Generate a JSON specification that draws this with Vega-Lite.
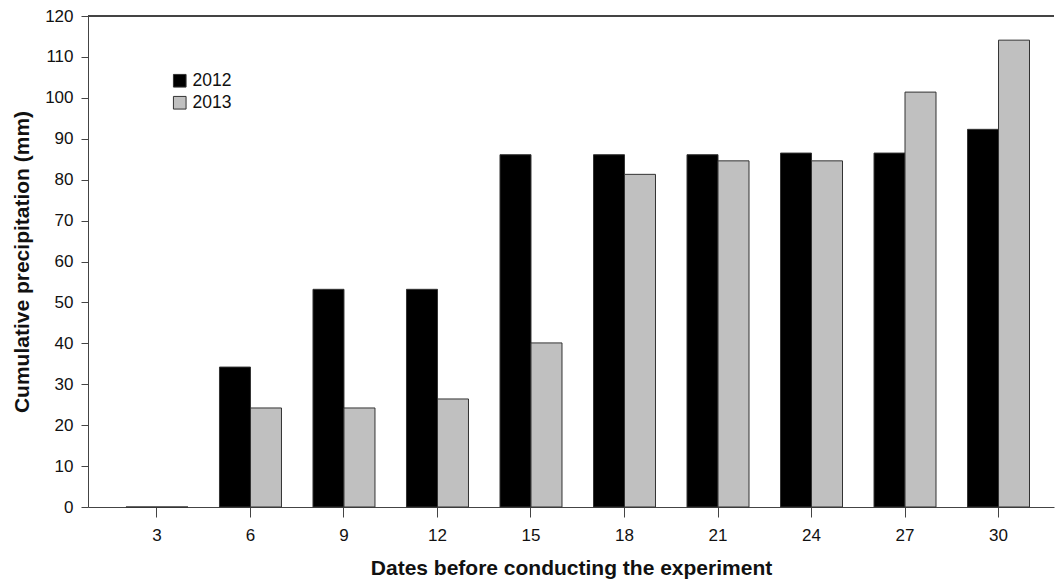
{
  "$schema": "https://vega.github.io/schema/vega-lite/v6.json",
  "autosize": {"type": "none"},
  "width": 966,
  "height": 491,
  "padding": {"left": 88, "top": 16, "right": 2, "bottom": 79},
  "background": "white",
  "config": {
    "view": {"stroke": null},
    "font": "Liberation Sans",
    "axis": {
      "domainColor": "#444",
      "tickColor": "#444",
      "labelColor": "#111",
      "labelFont": "Liberation Sans",
      "labelFontSize": 17,
      "titleFont": "Liberation Sans",
      "titleFontSize": 21,
      "titleFontWeight": "bold",
      "titleColor": "#111",
      "grid": false
    }
  },
  "data": {
    "values": [
      {"day": 3, "year": "2012", "mm": 0},
      {"day": 3, "year": "2013", "mm": 0},
      {"day": 6, "year": "2012", "mm": 34.2},
      {"day": 6, "year": "2013", "mm": 24.2},
      {"day": 9, "year": "2012", "mm": 53.2},
      {"day": 9, "year": "2013", "mm": 24.2},
      {"day": 12, "year": "2012", "mm": 53.2},
      {"day": 12, "year": "2013", "mm": 26.4},
      {"day": 15, "year": "2012", "mm": 86.1},
      {"day": 15, "year": "2013", "mm": 40.1},
      {"day": 18, "year": "2012", "mm": 86.1},
      {"day": 18, "year": "2013", "mm": 81.3},
      {"day": 21, "year": "2012", "mm": 86.1},
      {"day": 21, "year": "2013", "mm": 84.6},
      {"day": 24, "year": "2012", "mm": 86.5},
      {"day": 24, "year": "2013", "mm": 84.6},
      {"day": 27, "year": "2012", "mm": 86.5},
      {"day": 27, "year": "2013", "mm": 101.4},
      {"day": 30, "year": "2012", "mm": 92.3},
      {"day": 30, "year": "2013", "mm": 114.1}
    ]
  },
  "layer": [
    {
      "mark": {"type": "bar", "stroke": "#333", "strokeWidth": 1},
      "encoding": {
        "x": {
          "field": "day",
          "type": "ordinal",
          "scale": {"paddingInner": 0.337, "paddingOuter": 0.334, "align": 0.608},
          "axis": {
            "title": "Dates before conducting the experiment",
            "labelAngle": 0,
            "tickSize": 10,
            "labelPadding": 10,
            "titlePadding": 14
          }
        },
        "xOffset": {"field": "year", "type": "nominal"},
        "y": {
          "field": "mm",
          "type": "quantitative",
          "scale": {"domain": [0, 120], "nice": false},
          "axis": {
            "title": "Cumulative precipitation (mm)",
            "values": [0, 10, 20, 30, 40, 50, 60, 70, 80, 90, 100, 110, 120],
            "tickSize": 7,
            "labelPadding": 8,
            "titlePadding": 12
          }
        },
        "color": {
          "field": "year",
          "type": "nominal",
          "scale": {"domain": ["2012", "2013"], "range": ["#000000", "#c0c0c0"]},
          "legend": {
            "title": null,
            "orient": "none",
            "legendX": 83,
            "legendY": 56,
            "symbolType": "square",
            "symbolSize": 160,
            "symbolStrokeColor": "#333",
            "symbolStrokeWidth": 1,
            "labelFontSize": 17.5,
            "labelColor": "#111",
            "labelOffset": 4,
            "rowPadding": 3
          }
        }
      }
    },
    {
      "mark": {"type": "rule", "color": "#444", "strokeWidth": 1},
      "encoding": {"y": {"datum": 120}}
    }
  ]
}
